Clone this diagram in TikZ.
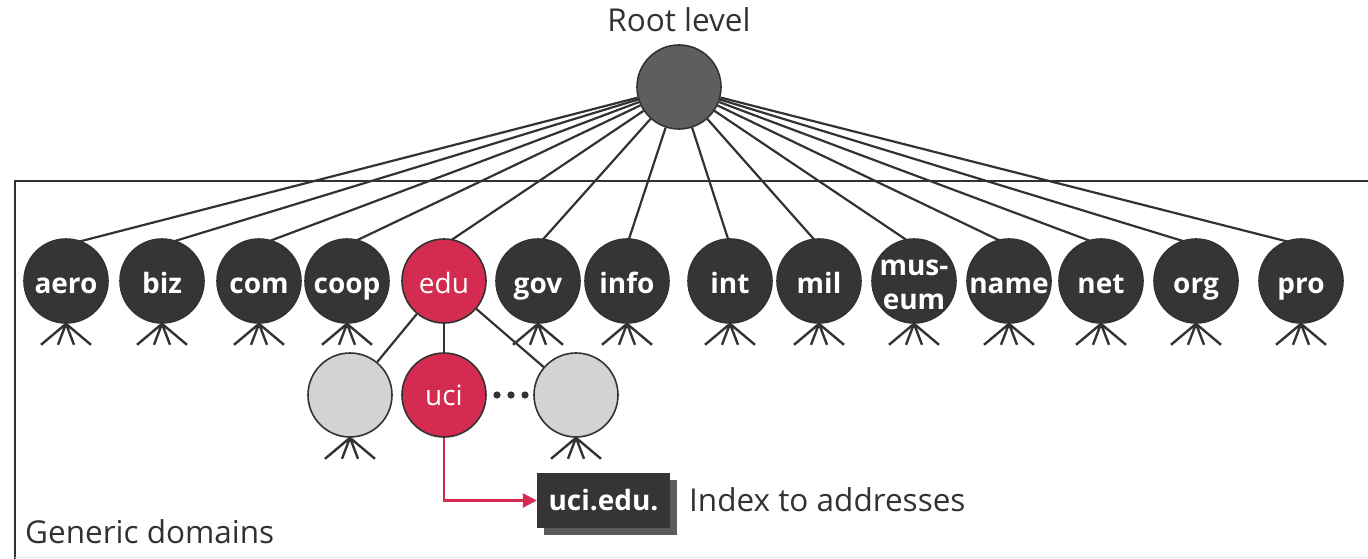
\documentclass[tikz,border=0pt]{standalone}
\usepackage{fontspec}
\setmainfont{Open Sans}
\usetikzlibrary{arrows.meta,shadows}
\definecolor{ink}{HTML}{333233}
\definecolor{domfill}{HTML}{363435}
\definecolor{rootfill}{HTML}{5D5E60}
\definecolor{hot}{HTML}{D42C50}
\definecolor{pale}{HTML}{D1D3D4}
\definecolor{shade}{HTML}{5A5B5D}
\definecolor{rule}{HTML}{E4E4E4}

\begin{document}
\begin{tikzpicture}[x=1pt,y=-1pt,
  ball/.style={circle, draw=ink, line width=1.6pt, minimum size=84pt, inner sep=0pt},
  dom/.style={ball, fill=domfill},
  hotball/.style={ball, fill=hot},
  paleball/.style={ball, fill=pale},
  rootball/.style={ball, fill=rootfill},
  blab/.style={text=white, font=\fontsize{28}{30}\selectfont\bfseries, anchor=base, inner sep=0pt},
  wlab/.style={text=white, font=\fontsize{28}{30}\selectfont, anchor=base, inner sep=0pt},
  caption/.style={text=ink, font=\fontsize{31.5}{33}\selectfont, inner sep=0pt},
  link/.style={draw=ink, line width=2.2pt},
  leg/.style={draw=ink, line width=2.4pt},
  hotlink/.style={draw=hot, line width=2.2pt},
  zonebox/.style={draw=ink, line width=2.5pt},
]
\useasboundingbox (0,0) rectangle (1368,559);

% frame of the generic-domain zone
\draw[zonebox] (1380,181) -- (15,181) -- (15,570);
\draw[rule, line width=1.2pt] (15,557.5) -- (1380,557.5);

% root
\node[rootball] (root) at (679,87) {};
\node[caption, anchor=base] (rootcap) at (679,32) {Root level};

% top-level domains; each link aims just under the top of its circle
\foreach \n/\x in {aero/66, biz/162, com/259, coop/347, edu/444, gov/538,
                    info/627, int/730, mil/819, museum/914, name/1009,
                    net/1101, org/1196, pro/1301} {
  \coordinate (\n-in) at (\x,245);
  \draw[link] (root) -- (\n-in);
}
\foreach \n/\x in {aero/66, biz/162, com/259, coop/347, gov/538, info/627,
                    int/730, mil/819, museum/914, name/1009, net/1101,
                    org/1196, pro/1301} {
  \node[dom] (\n) at (\x,281) {};
}
\node[hotball] (edu) at (444,281) {};

% labels of the top-level domains
\foreach \n/\x in {aero/66, biz/162, com/259, coop/347, gov/538, info/627,
                    int/730, mil/819, name/1009, net/1101, org/1196, pro/1301} {
  \node[blab] (\n-t) at (\x,293) {\n};
}
\node[blab] (museum-t1) at (914,275) {mus-};
\node[blab] (museum-t2) at (914,309) {eum};
\node[wlab] (edu-t) at (444,293) {edu};

% second level under edu
\node[paleball] (left) at (350,395) {};
\node[hotball] (uci) at (444,395) {};
\node[paleball] (right) at (576,395) {};
\draw[link] (edu) -- (left);
\draw[link] (edu) -- (uci);
\draw[link] (edu) -- (right);
\node[wlab] (uci-t) at (444,405) {uci};
\foreach \x in {497,511,525} \fill[ink] (\x,395) circle (3.6pt);

% branching feet under each collapsed subtree
\foreach \n in {aero, biz, com, coop, gov, info, int, mil, museum,
                name, net, org, pro, left, right} {
  \draw[leg] (\n.south) -- +(-25,21)
             (\n.south) -- +(-8,21)
             (\n.south) -- +(8,21)
             (\n.south) -- +(25,21);
}

% zone file of uci.edu
\node[fill=domfill, minimum width=133pt, minimum height=55pt, inner sep=0pt,
      text=white, font=\fontsize{28}{30}\selectfont\bfseries,
      copy shadow={shadow xshift=7pt, shadow yshift=-7pt, fill=shade, draw=none}]
      (zone) at (603.5,500.5) {uci.edu.};
\draw[hotlink, -{Triangle[length=14pt,width=14pt]}] (uci.south) |- (zone.west);
\node[caption, anchor=base west] (idx) at (689,511) {Index to addresses};

\node[caption, anchor=base west] (generic) at (25,543) {Generic domains};
\end{tikzpicture}
\end{document}
